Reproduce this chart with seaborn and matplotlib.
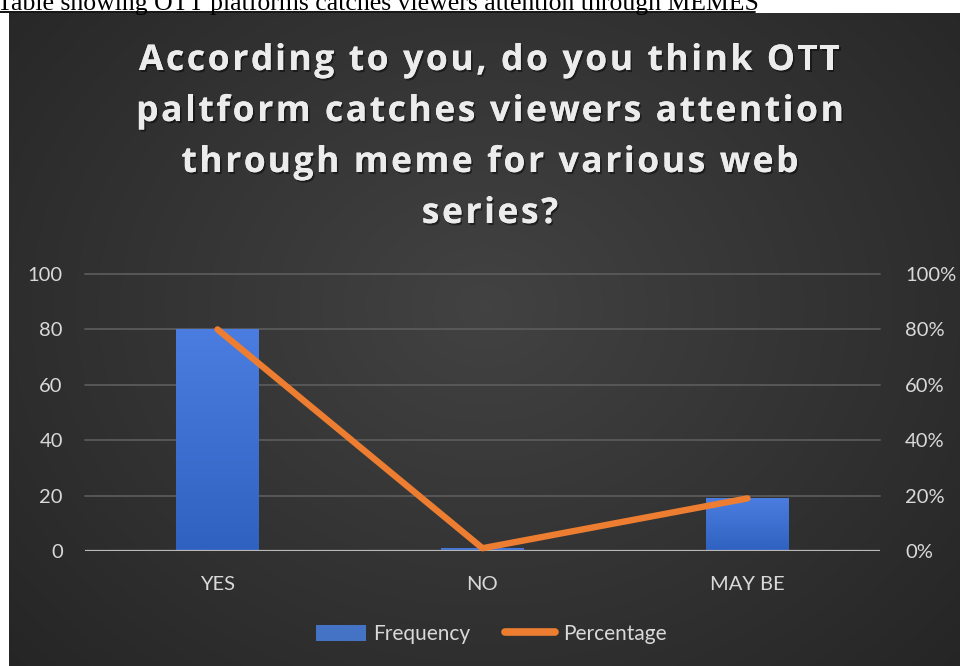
import numpy as np
import pandas as pd
import matplotlib
matplotlib.use("Agg")
import matplotlib.pyplot as plt
import matplotlib.patheffects as pe
import seaborn as sns
from matplotlib.lines import Line2D
from matplotlib.patches import Patch
from matplotlib.font_manager import FontProperties

# Survey responses
categories = ["YES", "NO", "MAY BE"]
frequency = [80, 1, 19]
percentage = [0.80, 0.01, 0.19]
left_ticks = [0, 20, 40, 60, 80, 100]
right_ticks = [0.0, 0.2, 0.4, 0.6, 0.8, 1.0]

title_lines = ["According to you, do you think OTT",
               "paltform catches viewers attention",
               "through meme for various web",
               "series?"]
caption = "Table showing OTT platforms catches viewers attention through MEMES"

df = pd.DataFrame({"Response": categories, "Frequency": frequency,
                   "Percentage": percentage})

sns.set_theme(style="dark")
plt.rcParams["font.family"] = ["Lato", "DejaVu Sans"]

TXT = "#d9d9d9"
BLUE = "#4472C4"
ORANGE = "#ED7D31"

W, H = 960, 666
fig = plt.figure(figsize=(W / 100, H / 100), dpi=100)
fig.patch.set_facecolor("white")

# dark panel with a soft radial glow
bg = fig.add_axes([9 / W, 0, 1 - 9 / W, (H - 13) / H])
bg.set_axis_off()
yy, xx = np.mgrid[0:1:300j, 0:1:400j]
r = np.sqrt(((xx - 0.5) / 0.75) ** 2 + ((yy - 0.45) / 0.9) ** 2)
shade = np.clip(0.26 - 0.125 * r, 0.14, 0.26)
bg.imshow(np.dstack([shade] * 3), aspect="auto", extent=[0, 1, 0, 1],
          interpolation="bicubic")
bg.set_xlim(0, 1)
bg.set_ylim(0, 1)

# caption above the panel (its upper part runs past the page top)
fig.text(-3 / W, 1 - 10 / H, caption, fontsize=18.5,
         family=["Liberation Serif", "DejaVu Serif"], color="black",
         ha="left", va="baseline")
fig.add_artist(Line2D([0, 755 / W], [1 - 11.5 / H] * 2, color="black", lw=1.3))

# chart title, drawn letter by letter with extra tracking
renderer = fig.canvas.get_renderer()
tfp = FontProperties(family=["Open Sans", "DejaVu Sans"], weight="bold",
                     size=25.5)


def text_w(s):
    return renderer.get_text_width_height_descent(s, tfp, ismath=False)[0]


bar_w = text_w("|")
first_w = text_w(title_lines[0])
tracking = (702 - first_w) / (len(title_lines[0]) - 1)
shadow = [pe.withSimplePatchShadow(offset=(1.2, -1.5), shadow_rgbFace="black",
                                   alpha=0.45), pe.Normal()]
for i, line in enumerate(title_lines):
    total = text_w(line) + tracking * (len(line) - 1)
    start = 490 - total / 2
    y = 1 - (70 + 51 * i) / H
    for j, ch in enumerate(line):
        if ch == " ":
            continue
        xpx = start + (text_w(line[:j] + "|") - bar_w if j else 0) + tracking * j
        fig.text(xpx / W, y, ch, ha="left", va="baseline", fontproperties=tfp,
                 color="#ececec", path_effects=shadow)

# plotting area
ax = fig.add_axes([85 / W, 115 / H, 795 / W, 277 / H])
ax.set_facecolor("none")
sns.barplot(data=df, x="Response", y="Frequency", ax=ax, color=BLUE,
            width=0.31, saturation=1, zorder=3, linewidth=0, edgecolor="none")
ax.set_ylim(0, 100)
ax.set_xlim(-0.5, len(categories) - 0.5)
ax.set_yticks(left_ticks)
ax.set_yticklabels([str(t) for t in left_ticks])
ax.set_xlabel("")
ax.set_ylabel("")
for t in left_ticks[1:]:
    ax.axhline(t, color="#5a5a5a", lw=1.3, zorder=1, clip_on=False)
ax.axhline(0, color="#b8b8b8", lw=1.6, zorder=4)
for s in ax.spines.values():
    s.set_visible(False)
ax.tick_params(axis="y", colors=TXT, labelsize=14.5, length=0, pad=16)
ax.tick_params(axis="x", colors=TXT, labelsize=14.5, length=0, pad=18)

# vertical shading on each bar
grad = np.linspace(0, 1, 64).reshape(-1, 1)
cmap = matplotlib.colors.LinearSegmentedColormap.from_list(
    "bar", ["#2f62c0", "#4b7de0"])
for p in ax.patches:
    x0, y0 = p.get_x(), p.get_y()
    w, h = p.get_width(), p.get_height()
    if h <= 0:
        continue
    im = ax.imshow(grad, cmap=cmap, aspect="auto", origin="lower",
                   extent=[x0, x0 + w, y0, y0 + h], zorder=3)
    im.set_clip_path(p)
ax.set_xlim(-0.5, len(categories) - 0.5)
ax.set_ylim(0, 100)

# percentage line on the secondary axis
ax2 = ax.twinx()
sns.lineplot(data=df, x="Response", y="Percentage", ax=ax2, color=ORANGE,
             lw=4.6, sort=False, zorder=5)
for ln in ax2.get_lines():
    ln.set_solid_capstyle("round")
    ln.set_solid_joinstyle("round")
    ln.set_clip_on(False)
ax2.set_ylim(0, 1)
ax2.set_yticks(right_ticks)
ax2.set_yticklabels([f"{int(round(t * 100))}%" for t in right_ticks])
ax2.set_ylabel("")
ax2.grid(False)
for s in ax2.spines.values():
    s.set_visible(False)
ax2.tick_params(axis="y", colors=TXT, labelsize=14.5, length=0, pad=18)

# legend
handles = [Patch(facecolor=BLUE, edgecolor="none"),
           Line2D([0], [0], color=ORANGE, lw=5.5, solid_capstyle="round")]
fig.legend(handles, ["Frequency", "Percentage"], loc="center",
           bbox_to_anchor=(491 / W, 1 - 634 / H), ncol=2, frameon=False,
           fontsize=15, labelcolor=TXT, handlelength=2.4, handleheight=0.8,
           handletextpad=0.35, columnspacing=1.7)

fig.savefig("out.png", dpi=100)
